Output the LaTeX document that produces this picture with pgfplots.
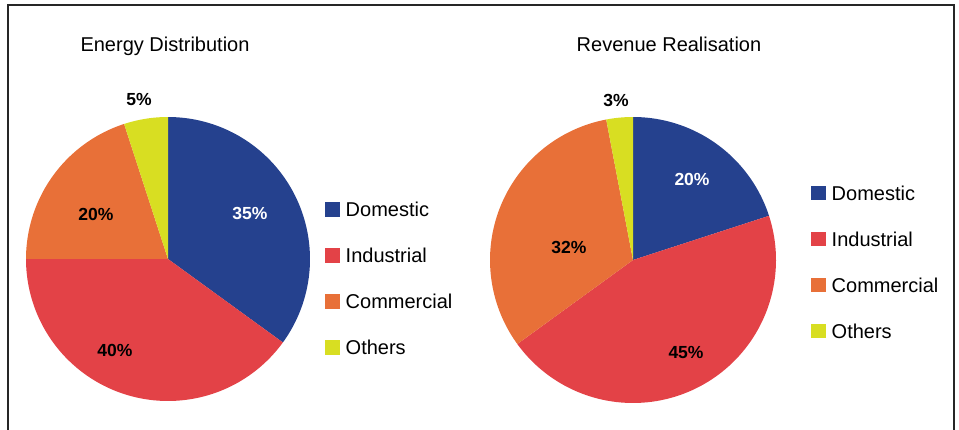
\documentclass[border=0pt]{standalone}
\usepackage{pgfplots}
\usepackage{pgfplotstable}
\pgfplotsset{compat=1.18}
\usepackage{fontspec}
\setmainfont{Liberation Sans}

\definecolor{cDom}{HTML}{25418E}
\definecolor{cInd}{HTML}{E34247}
\definecolor{cCom}{HTML}{E87038}
\definecolor{cOth}{HTML}{D8DE22}

\pgfplotstableread{
cat value
Domestic 35
Industrial 40
Commercial 20
Others 5
}\energy
\pgfplotstableread{
cat value
Domestic 20
Industrial 45
Commercial 32
Others 3
}\revenue

\pgfplotsset{
  pieaxis/.style={
    scale only axis, width=959pt, height=429pt,
    xmin=0, xmax=959, ymin=0, ymax=429,
    hide axis, clip=false,
    legend image code/.code={\fill[##1,draw=none] (0pt,0pt) rectangle (14.5pt,14.5pt);},
    legend cell align=left,
    legend style={draw=none, fill=none, anchor=north west,
      font=\fontsize{20}{24}\selectfont,
      inner xsep=0pt, inner ysep=0pt,
      row sep=27.5pt, column sep=6pt,
      cells={anchor=base west},
      nodes={inner sep=0pt, text height=14pt, text depth=4pt}},
  },
  slice/.style={draw=none, samples=90},
}
\newcommand{\lbl}{\fontsize{17.5}{20}\selectfont\bfseries}
\newcommand{\ttl}{\fontsize{20}{24}\selectfont}

\begin{document}
\begin{tikzpicture}
\pgfplotstablegetelem{0}{value}\of\energy \edef\eDo{\pgfplotsretval}
\pgfplotstablegetelem{1}{value}\of\energy \edef\eIn{\pgfplotsretval}
\pgfplotstablegetelem{2}{value}\of\energy \edef\eCo{\pgfplotsretval}
\pgfplotstablegetelem{3}{value}\of\energy \edef\eOt{\pgfplotsretval}
\pgfplotstablegetelem{0}{value}\of\revenue \edef\rDo{\pgfplotsretval}
\pgfplotstablegetelem{1}{value}\of\revenue \edef\rIn{\pgfplotsretval}
\pgfplotstablegetelem{2}{value}\of\revenue \edef\rCo{\pgfplotsretval}
\pgfplotstablegetelem{3}{value}\of\revenue \edef\rOt{\pgfplotsretval}
\pgfmathsetmacro\eA{90-3.6*\eDo}
\pgfmathsetmacro\eB{\eA-3.6*\eIn}
\pgfmathsetmacro\eC{\eB-3.6*\eCo}
\pgfmathsetmacro\eD{\eC-3.6*\eOt}
\pgfmathsetmacro\rA{90-3.6*\rDo}
\pgfmathsetmacro\rB{\rA-3.6*\rIn}
\pgfmathsetmacro\rC{\rB-3.6*\rCo}
\pgfmathsetmacro\rD{\rC-3.6*\rOt}

\begin{axis}[pieaxis, legend style={at={(axis cs:325,226.8)}}]
\draw[black!85, line width=1.3pt] (axis cs:8,-2) -- (axis cs:8,424) -- (axis cs:954,424) -- (axis cs:954,-2);
\addplot[slice, fill=cDom, domain=\eA:90] ({168+142*cos(x)},{170+142*sin(x)}) -- (axis cs:168,170) -- cycle;
\addplot[slice, fill=cInd, domain=\eB:\eA] ({168+142*cos(x)},{170+142*sin(x)}) -- (axis cs:168,170) -- cycle;
\addplot[slice, fill=cCom, domain=\eC:\eB] ({168+142*cos(x)},{170+142*sin(x)}) -- (axis cs:168,170) -- cycle;
\addplot[slice, fill=cOth, domain=\eD:\eC] ({168+142*cos(x)},{170+142*sin(x)}) -- (axis cs:168,170) -- cycle;
\legend{Domestic,Industrial,Commercial,Others}
\node[anchor=base] at (axis cs:165,377.5) {\ttl Energy Distribution};
\node[white] at (axis cs:250,216) {\lbl 35\%};
\node at (axis cs:115,79) {\lbl 40\%};
\node at (axis cs:96,215) {\lbl 20\%};
\node at (axis cs:139,330) {\lbl 5\%};
\end{axis}

\begin{axis}[pieaxis, legend style={at={(axis cs:811,243.5)}}]
\addplot[slice, fill=cDom, domain=\rA:90] ({633+143*cos(x)},{169+143*sin(x)}) -- (axis cs:633,169) -- cycle;
\addplot[slice, fill=cInd, domain=\rB:\rA] ({633+143*cos(x)},{169+143*sin(x)}) -- (axis cs:633,169) -- cycle;
\addplot[slice, fill=cCom, domain=\rC:\rB] ({633+143*cos(x)},{169+143*sin(x)}) -- (axis cs:633,169) -- cycle;
\addplot[slice, fill=cOth, domain=\rD:\rC] ({633+143*cos(x)},{169+143*sin(x)}) -- (axis cs:633,169) -- cycle;
\legend{Domestic,Industrial,Commercial,Others}
\node[anchor=base] at (axis cs:669,377.5) {\ttl Revenue Realisation};
\node[white] at (axis cs:692,250) {\lbl 20\%};
\node at (axis cs:686,77) {\lbl 45\%};
\node at (axis cs:569,182) {\lbl 32\%};
\node at (axis cs:616,329) {\lbl 3\%};
\end{axis}
\pgfresetboundingbox
\path[use as bounding box] (0,0) rectangle (959pt,429pt);
\end{tikzpicture}
\end{document}
